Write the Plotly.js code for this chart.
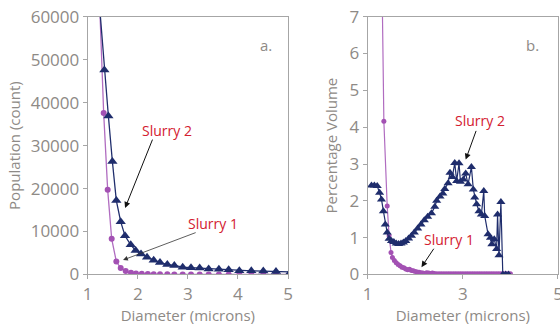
<!DOCTYPE html>
<html><head><meta charset="utf-8">
<script src="https://cdn.plot.ly/plotly-3.0.1.min.js"></script>
<style>html,body{margin:0;padding:0;background:#fff;}#chart{width:560px;height:331px;}</style>
</head><body><div id="chart"></div>
<script>
// Panel a: population (count) vs diameter
const aSlurry1X = [1.24,1.319,1.399,1.479,1.572,1.659,1.759,1.865,1.965,2.08,2.2,2.318,2.444,2.59,2.73,2.897,3.063,3.236,3.416,3.62,3.815,4.028,4.268,4.507,4.76,5.05];
const aSlurry1Y = [62500,37600,19700,8300,3000,1500,800,400,250,150,100,60,40,30,20,20,15,10,10,10,10,10,10,10,10,10];
const aSlurry2X = [1.24,1.333,1.413,1.493,1.572,1.659,1.745,1.859,1.958,2.065,2.185,2.318,2.444,2.59,2.73,2.897,3.063,3.236,3.416,3.62,3.815,4.028,4.268,4.507,4.76,5.05];
const aSlurry2Y = [62000,47600,36900,26300,17200,12300,9000,6900,5600,4800,4000,3300,2800,2300,2100,1700,1600,1500,1300,1200,1100,900,850,800,700,600];

// Panel b: percentage volume vs diameter
const bSlurry1X = [1.28,1.34,1.41,1.45,1.49,1.52,1.56,1.60,1.64,1.68,1.72,1.76,1.80,1.84,1.88,1.92,1.96,2.00,2.04,2.08,2.12,2.16,2.20,2.24,2.28,2.32,2.36,2.40,2.45,2.50,2.55,2.60,2.65,2.70,2.75,2.80,2.85,2.90,2.95,3.00,3.05,3.10,3.15,3.20,3.25,3.30,3.35,3.40,3.45,3.50,3.55,3.60,3.65,3.70,3.75,3.80,3.85,3.90,3.95,4.00];
const bSlurry1Y = [10,4.16,1.86,1.05,0.60,0.46,0.38,0.32,0.27,0.24,0.20,0.18,0.15,0.13,0.14,0.11,0.10,0.08,0.07,0.06,0.05,0.04,0.03,0.05,0.04,0.03,0.04,0.03,0.02,0.02,0.02,0.02,0.02,0.02,0.02,0.02,0.02,0.02,0.02,0.02,0.02,0.02,0.02,0.02,0.02,0.02,0.02,0.02,0.02,0.02,0.02,0.02,0.02,0.02,0.02,0.02,0.02,0.02,0.02,0.02];
const bSlurry2X = [1.08,1.14,1.20,1.25,1.29,1.33,1.37,1.41,1.45,1.50,1.55,1.60,1.65,1.70,1.75,1.80,1.86,1.92,1.98,2.05,2.12,2.19,2.26,2.34,2.41,2.45,2.52,2.58,2.62,2.69,2.73,2.78,2.83,2.87,2.92,2.95,3.01,3.06,3.11,3.18,3.22,3.25,3.29,3.34,3.39,3.44,3.46,3.53,3.58,3.61,3.66,3.71,3.73,3.76,3.80,3.84,3.90,3.96];
const bSlurry2Y = [2.42,2.42,2.40,2.22,2.04,1.72,1.36,1.14,0.97,0.91,0.88,0.84,0.83,0.84,0.87,0.91,0.98,1.05,1.14,1.25,1.36,1.47,1.57,1.66,1.84,2.00,2.12,2.20,2.32,2.48,2.76,2.65,3.03,2.54,3.02,2.52,2.58,2.74,2.45,2.92,2.31,2.09,1.91,1.72,1.63,2.27,1.59,1.09,1.00,0.82,0.96,0.69,1.63,0.52,1.97,0,0,0];

const seriesNames = ['Slurry 1','Slurry 2'];
const panelLabels = ['a.','b.'];

const navy = '#1f2d6c', purple = '#a351b3', purpleLine = '#b06cc0';
const red = '#d3202f', gray = '#8e8a86', axisGray = '#a6a6a6';
const FONT = '"Open Sans", Lato, sans-serif';

const traces = [
  {x:aSlurry1X, y:aSlurry1Y, xaxis:'x', yaxis:'y', mode:'lines+markers', name:seriesNames[0],
   line:{color:purpleLine,width:1.3}, marker:{color:purple,size:6,symbol:'circle'}},
  {x:aSlurry2X, y:aSlurry2Y, xaxis:'x', yaxis:'y', mode:'lines+markers', name:seriesNames[1],
   line:{color:navy,width:1.3}, marker:{color:navy,size:9,symbol:'triangle-up'}},
  {x:bSlurry1X, y:bSlurry1Y, xaxis:'x2', yaxis:'y2', mode:'lines+markers', name:seriesNames[0],
   line:{color:purpleLine,width:1.2}, marker:{color:purple,size:5,symbol:'circle'}},
  {x:bSlurry2X, y:bSlurry2Y, xaxis:'x2', yaxis:'y2', mode:'lines+markers', name:seriesNames[1],
   line:{color:navy,width:1.2}, marker:{color:navy,size:8,symbol:'triangle-up'}}
];

const axBase = {showgrid:false, zeroline:false, showline:true, mirror:true, linecolor:axisGray, linewidth:1,
  ticks:'outside', ticklen:4, tickcolor:axisGray, ticklabeloverflow:'allow', tickfont:{family:FONT,size:17,color:gray}};
const yDom = [0.1707, 0.9495];
const titleFont = {family:FONT,size:15,color:gray};

const layout = {
  width:560, height:331, autosize:false, showlegend:false,
  margin:{l:0,r:0,t:0,b:0}, paper_bgcolor:'#fff', plot_bgcolor:'#fff',
  font:{family:FONT,color:gray},
  xaxis:Object.assign({}, axBase, {domain:[0.1566,0.5143], range:[1,5], dtick:1, tick0:1, anchor:'y',
    title:{text:'Diameter (microns)', font:titleFont, standoff:2}}),
  yaxis:Object.assign({}, axBase, {domain:yDom, range:[0,60000], dtick:10000, tickformat:'d', anchor:'x',
    title:{text:'Population (count)', font:titleFont, standoff:6}}),
  xaxis2:Object.assign({}, axBase, {domain:[0.6566,0.9964], range:[1,5], dtick:2, tick0:1, anchor:'y2',
    title:{text:'Diameter (microns)', font:titleFont, standoff:2}}),
  yaxis2:Object.assign({}, axBase, {domain:yDom, range:[0,7], dtick:1, tick0:0, anchor:'x2',
    title:{text:'Percentage Volume', font:titleFont, standoff:8}}),
  annotations:[
    {xref:'x', yref:'y', x:2.586, y:33600, text:seriesNames[1], showarrow:false, font:{family:FONT,size:14,color:red}},
    {xref:'x', yref:'y', x:1.746, y:15470, ax:2.306, ay:31750, axref:'x', ayref:'y', text:'', showarrow:true,
     arrowhead:2, arrowsize:1.2, arrowwidth:1, arrowcolor:'#111'},
    {xref:'x', yref:'y', x:3.506, y:11980, text:seriesNames[0], showarrow:false, font:{family:FONT,size:14,color:red}},
    {xref:'x', yref:'y', x:1.706, y:3370, ax:3.186, ay:9880, axref:'x', ayref:'y', text:'', showarrow:true,
     arrowhead:2, arrowsize:1.2, arrowwidth:0.8, arrowcolor:'#333'},
    {xref:'x2', yref:'y2', x:3.36, y:4.18, text:seriesNames[1], showarrow:false, font:{family:FONT,size:14,color:red}},
    {xref:'x2', yref:'y2', x:3.06, y:3.12, ax:3.29, ay:3.94, axref:'x2', ayref:'y2', text:'', showarrow:true,
     arrowhead:2, arrowsize:1.2, arrowwidth:1, arrowcolor:'#111'},
    {xref:'x2', yref:'y2', x:2.71, y:0.94, text:seriesNames[0], showarrow:false, font:{family:FONT,size:14,color:red}},
    {xref:'x2', yref:'y2', x:2.13, y:0.2, ax:2.41, ay:0.74, axref:'x2', ayref:'y2', text:'', showarrow:true,
     arrowhead:2, arrowsize:1.2, arrowwidth:1, arrowcolor:'#111'},
    {xref:'x domain', yref:'y domain', x:0.93, y:0.935, text:panelLabels[0], showarrow:false, font:{family:FONT,size:15,color:gray}},
    {xref:'x2 domain', yref:'y2 domain', x:0.91, y:0.935, text:panelLabels[1], showarrow:false, font:{family:FONT,size:15,color:gray}}
  ]
};

Plotly.newPlot('chart', traces, layout, {staticPlot:true, displayModeBar:false});
</script></body></html>
